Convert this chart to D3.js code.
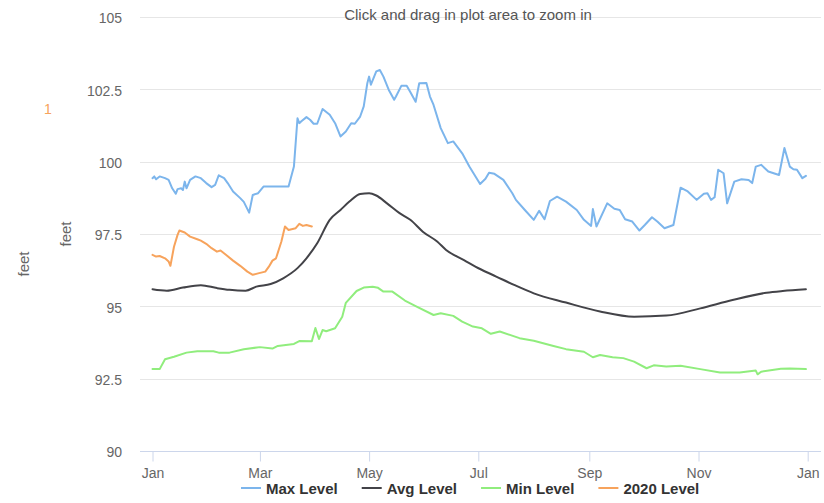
<!DOCTYPE html>
<html>
<head>
<meta charset="utf-8">
<script src="https://cdnjs.cloudflare.com/ajax/libs/d3/7.8.5/d3.min.js"></script>
<style>
body { margin: 0; background: #fff; }
svg text { font-family: "Liberation Sans", Arial, sans-serif; }
.grid line { stroke: #e6e6e6; stroke-width: 1; }
.x.axis line { stroke: #ccd6eb; }
.axis text { fill: #666; font-size: 14px; }
.series { fill: none; stroke-width: 2; stroke-linejoin: round; stroke-linecap: round; }
.legend text { fill: #333; font-size: 15px; font-weight: bold; }
</style>
</head>
<body>
<svg id="chart"></svg>
<script>
// day of year (0 = Jan 1 2020) and level in feet
var maxDays = [0,1,2,4,7,9,11,13,14,16,17,18,19,21,24,27,30,33,35,37,40,42,45,49,51,54,56,59,62,76,79,81,82,83,86,88,90,92,95,99,102,105,108,111,113,116,118,120,121,122,125,127,129,132,135,136,139,142,144,147,149,153,155,157,161,165,168,173,177,183,186,188,191,196,201,203,208,213,216,219,222,226,231,237,241,245,246,248,254,258,261,264,268,272,275,279,282,286,291,295,299,304,308,310,312,314,316,319,321,325,329,333,335,337,340,344,350,353,356,358,360,363,365];
var maxVals = [99.43,99.49,99.39,99.49,99.43,99.37,99.08,98.89,99.05,99.08,99.02,99.31,99.08,99.37,99.49,99.43,99.26,99.12,99.20,99.53,99.43,99.26,98.97,98.74,98.61,98.24,98.85,98.91,99.14,99.14,99.83,101.50,101.33,101.39,101.54,101.45,101.31,101.31,101.82,101.62,101.33,100.87,101.04,101.33,101.31,101.56,101.91,102.71,102.94,102.66,103.12,103.17,102.94,102.48,102.14,102.25,102.62,102.62,102.41,102.07,102.71,102.72,102.25,101.96,101.16,100.64,100.70,100.29,99.83,99.23,99.41,99.62,99.58,99.37,98.91,98.68,98.33,97.99,98.30,98.01,98.64,98.79,98.62,98.33,97.99,97.78,98.36,97.76,98.56,98.37,98.33,98.01,97.93,97.62,97.81,98.08,97.93,97.70,97.81,99.10,98.97,98.68,98.89,98.91,98.68,98.77,99.72,99.60,98.56,99.31,99.39,99.37,99.26,99.83,99.89,99.66,99.54,100.47,99.83,99.74,99.72,99.43,99.51];

var avgDays = [0,8,17,27,36,43,52,58,66,73,81,86,92,99,105,110,116,121,125,131,138,144,151,159,164,174,183,192,202,213,231,250,269,287,306,324,343,352,365];
var avgVals = [95.59,95.54,95.65,95.73,95.63,95.57,95.54,95.68,95.77,95.97,96.32,96.66,97.18,97.99,98.33,98.62,98.88,98.91,98.83,98.56,98.22,97.99,97.58,97.24,96.95,96.60,96.29,96.03,95.74,95.45,95.13,94.82,94.64,94.68,94.93,95.22,95.47,95.53,95.59];

var minDays = [0,4,7,12,19,25,34,37,43,51,60,67,70,79,82,89,91,93,95,97,102,106,108,114,118,123,126,129,134,141,147,157,161,168,173,179,184,189,194,205,213,224,231,241,246,250,257,263,269,276,280,287,295,306,317,328,337,338,340,351,356,365];
var minVals = [92.83,92.83,93.17,93.26,93.40,93.45,93.45,93.40,93.40,93.52,93.59,93.54,93.63,93.70,93.80,93.79,94.25,93.87,94.18,94.14,94.24,94.64,95.12,95.53,95.65,95.68,95.64,95.51,95.51,95.20,95.01,94.70,94.76,94.67,94.47,94.30,94.24,94.05,94.13,93.90,93.81,93.63,93.52,93.43,93.24,93.32,93.24,93.21,93.09,92.86,92.96,92.92,92.95,92.83,92.71,92.71,92.78,92.65,92.74,92.84,92.85,92.83];

var curDays = [0,2,4,7,9,10,12,14,15,18,21,25,27,30,33,36,38,41,45,49,53,56,59,63,65,67,69,72,74,76,80,82,84,86,89];
var curVals = [96.78,96.72,96.74,96.66,96.55,96.40,97.06,97.47,97.62,97.55,97.41,97.32,97.27,97.16,97.01,96.89,96.93,96.78,96.58,96.40,96.20,96.09,96.14,96.20,96.37,96.58,96.66,97.24,97.76,97.64,97.70,97.85,97.78,97.81,97.76];

var seriesNames = ["Max Level", "Avg Level", "Min Level", "2020 Level"];
var seriesColors = ["#7cb5ec", "#434348", "#90ed7d", "#f7a35c"];
var yTicks = [90, 92.5, 95, 97.5, 100, 102.5, 105];
var monthTicks = [0, 2, 4, 6, 8, 10, 12];

var W = 824, H = 503;
var plotLeft = 140, plotRight = 821, plotTop = 17, plotBottom = 451;

function dayToDate(d){ return new Date(Date.UTC(2020, 0, 1 + d)); }

var xScale = d3.scaleUtc()
    .domain([dayToDate(0), dayToDate(366)])
    .range([152.5, 807.7]);

var yScale = d3.scaleLinear()
    .domain([90, 105])
    .range([plotBottom, plotTop]);

var svg = d3.select("#chart")
    .attr("width", W)
    .attr("height", H);

// horizontal grid
svg.append("g")
    .attr("class", "grid")
    .selectAll("line")
    .data(yTicks)
    .enter().append("line")
    .attr("x1", plotLeft)
    .attr("x2", plotRight)
    .attr("y1", function(d){ return Math.round(yScale(d)) + 0.5; })
    .attr("y2", function(d){ return Math.round(yScale(d)) + 0.5; });

// y labels
var yAxis = svg.append("g")
    .attr("class", "y axis")
    .attr("transform", "translate(122,0)")
    .call(d3.axisLeft(yScale)
        .tickValues(yTicks)
        .tickSize(0)
        .tickPadding(0)
        .tickFormat(function(d){ return d; }));
yAxis.select(".domain").remove();
yAxis.selectAll("text").attr("dy", "0.42em");

// x axis
var xAxis = svg.append("g")
    .attr("class", "x axis")
    .attr("transform", "translate(0," + (plotBottom + 0.5) + ")")
    .call(d3.axisBottom(xScale)
        .tickValues(monthTicks.map(function(m){ return new Date(Date.UTC(2020, m, 1)); }))
        .tickFormat(d3.utcFormat("%b"))
        .tickSize(10)
        .tickPadding(7));
xAxis.select(".domain").remove();
xAxis.append("line")
    .attr("x1", plotLeft)
    .attr("x2", plotRight)
    .attr("y1", 0)
    .attr("y2", 0);

// title
svg.append("text")
    .attr("x", 468)
    .attr("y", 20)
    .attr("text-anchor", "middle")
    .style("font-size", "15px")
    .style("fill", "#555")
    .text("Click and drag in plot area to zoom in");

// axis titles (two of them in the original)
svg.append("text")
    .attr("transform", "translate(29,264) rotate(-90)")
    .attr("text-anchor", "middle")
    .style("font-size", "15px")
    .style("fill", "#666")
    .text("feet");
svg.append("text")
    .attr("transform", "translate(71,234) rotate(-90)")
    .attr("text-anchor", "middle")
    .style("font-size", "15px")
    .style("fill", "#666")
    .text("feet");
svg.append("text")
    .attr("x", 48)
    .attr("y", 114)
    .attr("text-anchor", "middle")
    .style("font-size", "14px")
    .style("fill", "#f7a35c")
    .text("1");

var line = d3.line()
    .x(function(d){ return xScale(d.date); })
    .y(function(d){ return yScale(d.v); });

var smoothLine = d3.line()
    .x(function(d){ return xScale(d.date); })
    .y(function(d){ return yScale(d.v); })
    .curve(d3.curveMonotoneX);

function toPoints(days, vals){
    return days.map(function(d, i){ return {date: dayToDate(d), v: vals[i]}; });
}

var allSeries = [
    toPoints(maxDays, maxVals),
    toPoints(avgDays, avgVals),
    toPoints(minDays, minVals),
    toPoints(curDays, curVals)
];

for (var i = 0; i < allSeries.length; i++){
    svg.append("path")
        .datum(allSeries[i])
        .attr("class", "series")
        .attr("stroke", seriesColors[i])
        .attr("d", i == 1 ? smoothLine : line);
}

// legend
var legend = svg.append("g").attr("class", "legend");
var lx = 241;
seriesNames.forEach(function(name, i){
    var g = legend.append("g").attr("transform", "translate(" + lx + ",0)");
    g.append("line")
        .attr("x1", 0).attr("x2", 20)
        .attr("y1", 488).attr("y2", 488)
        .attr("stroke", seriesColors[i])
        .attr("stroke-width", 2);
    var t = g.append("text")
        .attr("x", 25)
        .attr("y", 494)
        .text(name);
    lx += 25 + t.node().getComputedTextLength() + 24;
});
</script>
</body>
</html>
